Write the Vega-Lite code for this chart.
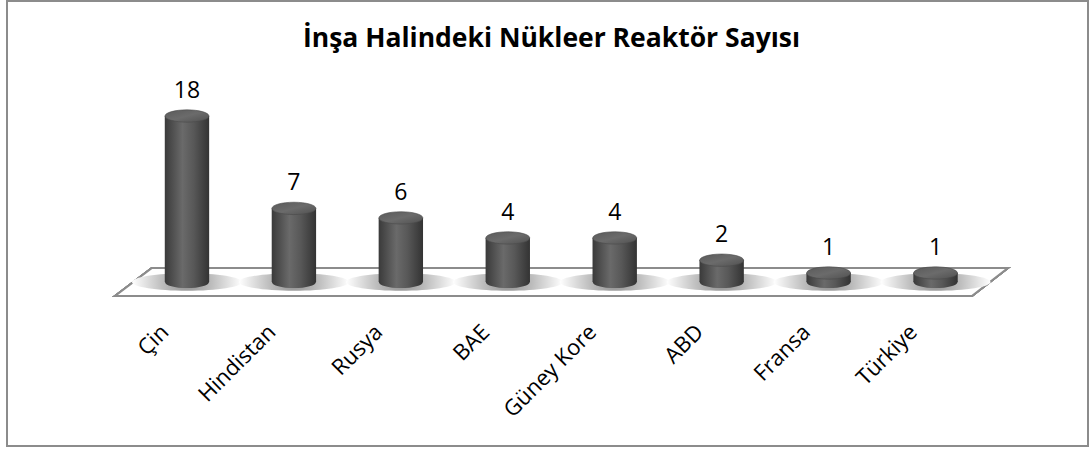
{
  "$schema": "https://vega.github.io/schema/vega-lite/v6.json",
  "width": 1081,
  "height": 445,
  "autosize": {"type": "none"},
  "padding": {"left": 7, "top": 1, "right": 3, "bottom": 4},
  "background": "white",
  "config": {"view": {"stroke": "#8c8c8c", "strokeWidth": 2}},
  "title": {
    "text": "İnşa Halindeki Nükleer Reaktör Sayısı",
    "font": "Open Sans",
    "fontSize": 26.5,
    "fontWeight": "bold",
    "color": "#000000",
    "anchor": "middle",
    "baseline": "alphabetic",
    "offset": 0,
    "dx": 4,
    "dy": 72
  },
  "data": {
    "values": [
      {"country": "Çin", "count": 18},
      {"country": "Hindistan", "count": 7},
      {"country": "Rusya", "count": 6},
      {"country": "BAE", "count": 4},
      {"country": "Güney Kore", "count": 4},
      {"country": "ABD", "count": 2},
      {"country": "Fransa", "count": 1},
      {"country": "Türkiye", "count": 1}
    ]
  },
  "layer": [
    {
      "mark": {
        "type": "point",
        "shape": "M -0.961 0.0311 L -0.879 -0.0311 L 1.023 -0.0311 L 0.943 0.0311 Z",
        "size": 810000,
        "filled": true,
        "fill": "#ffffff",
        "stroke": "#8c8c8c",
        "strokeWidth": 2,
        "opacity": 1
      },
      "encoding": {
        "y": {"datum": 0.4, "type": "quantitative", "scale": {"type": "pow", "exponent": 0.8, "domain": [0, 18], "range": [289.25, 115], "nice": false, "zero": true}, "axis": null}
      }
    },
    {
      "mark": {
        "type": "point",
        "shape": "M -1 0 A 1 0.16 0 1 0 1 0 A 1 0.16 0 1 0 -1 0 Z",
        "size": 12100,
        "filled": true,
        "opacity": 1,
        "strokeWidth": 0,
        "fill": {
          "gradient": "radial",
          "stops": [
            {"offset": 0, "color": "#8f8f8f"},
            {"offset": 0.45, "color": "#bdbdbd"},
            {"offset": 1, "color": "#ffffff"}
          ]
        }
      },
      "encoding": {
        "x": {
          "field": "country",
          "type": "nominal",
          "sort": null,
          "scale": {"type": "band", "range": [126.5, 982], "paddingInner": 0, "paddingOuter": 0},
          "axis": {
            "title": null,
            "labelAngle": -45,
            "labelFont": "Open Sans",
            "labelFontSize": 22,
            "labelColor": "#000000",
            "ticks": false,
            "domain": false,
            "grid": false,
            "labelPadding": 0,
            "offset": -125,
            "labelOffset": -29
          }
        },
        "y": {"datum": 0.4, "type": "quantitative"}
      }
    },
    {
      "mark": {
        "type": "point",
        "shape": "M -1 0 A 1 0.28 0 1 0 1 0 A 1 0.28 0 1 0 -1 0 Z",
        "size": 1936,
        "filled": true,
        "opacity": 1,
        "strokeWidth": 0,
        "fill": {
          "gradient": "linear", "x1": 0, "x2": 1, "y1": 0, "y2": 0,
          "stops": [
            {"offset": 0, "color": "#3a3a3a"},
            {"offset": 0.4, "color": "#6a6a6a"},
            {"offset": 0.65, "color": "#585858"},
            {"offset": 1, "color": "#333333"}
          ]
        }
      },
      "encoding": {
        "x": {"field": "country", "type": "nominal", "sort": null},
        "y": {"datum": 0.4, "type": "quantitative"}
      }
    },
    {
      "mark": {
        "type": "bar",
        "width": {"band": 0.415},
        "fill": {
          "gradient": "linear", "x1": 0, "x2": 1, "y1": 0, "y2": 0,
          "stops": [
            {"offset": 0, "color": "#3a3a3a"},
            {"offset": 0.4, "color": "#6a6a6a"},
            {"offset": 0.65, "color": "#585858"},
            {"offset": 1, "color": "#333333"}
          ]
        }
      },
      "encoding": {
        "x": {"field": "country", "type": "nominal", "sort": null},
        "y": {"field": "count", "type": "quantitative"},
        "y2": {"datum": 0.4}
      }
    },
    {
      "mark": {
        "type": "point",
        "shape": "M -1 0 A 1 0.28 0 1 0 1 0 A 1 0.28 0 1 0 -1 0 Z",
        "size": 1936,
        "filled": true,
        "opacity": 1,
        "stroke": "#4a4a4a",
        "strokeWidth": 0.6,
        "fill": {
          "gradient": "linear", "x1": 0, "x2": 1, "y1": 0, "y2": 1,
          "stops": [
            {"offset": 0, "color": "#5a5a5a"},
            {"offset": 0.5, "color": "#6b6b6b"},
            {"offset": 1, "color": "#505050"}
          ]
        }
      },
      "encoding": {
        "x": {"field": "country", "type": "nominal", "sort": null},
        "y": {"field": "count", "type": "quantitative"}
      }
    },
    {
      "mark": {
        "type": "text",
        "font": "Open Sans",
        "fontSize": 23,
        "color": "#000000",
        "baseline": "middle",
        "dy": -25
      },
      "encoding": {
        "x": {"field": "country", "type": "nominal", "sort": null},
        "y": {"field": "count", "type": "quantitative"},
        "text": {"field": "count", "type": "quantitative"}
      }
    }
  ]
}
